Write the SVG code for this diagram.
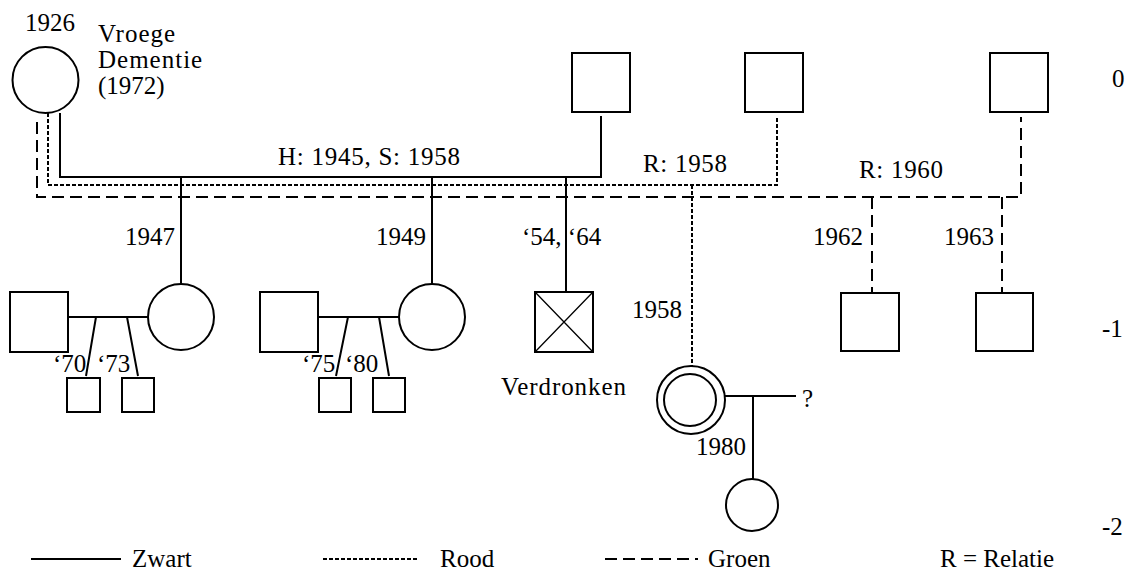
<svg xmlns="http://www.w3.org/2000/svg" width="1130" height="573" viewBox="0 0 1130 573" font-family="'Liberation Serif', 'Times New Roman', Times, serif">
<style>
text{font-family:'Liberation Serif','Times New Roman',Times,serif;font-size:25px;fill:#000}
.n{fill:#fff;stroke:#000;stroke-width:2}
.thin{fill:none;stroke:#000;stroke-width:1.3}
.blk{fill:none;stroke:#000;stroke-width:2}
.red{fill:none;stroke:#000;stroke-width:2;stroke-dasharray:4 2}
.grn{fill:none;stroke:#000;stroke-width:2;stroke-dasharray:12 6}
.e{text-anchor:end}
</style>
<rect width="1130" height="573" fill="#fff"/>
<g id="connectors">
  <path class="grn" d="M37,122 V197 H1021 V117"/>
  <path class="grn" d="M872,197 V293"/>
  <path class="grn" d="M1002,197 V293"/>
  <path class="red" d="M48,113 V185 H777 V117"/>
  <path class="red" d="M692,185 V367"/>
  <path class="blk" d="M60,113 V177 H601 V116"/>
  <path class="blk" d="M181,177 V284"/>
  <path class="blk" d="M432,177 V284"/>
  <path class="blk" d="M566,177 V292"/>
  <path class="blk" d="M68,317 H148"/>
  <path class="blk" d="M96,317 L86,376 M127,317 L138,376"/>
  <path class="blk" d="M318,317 H400"/>
  <path class="blk" d="M348,317 L336,376 M379,317 L389,376"/>
  <path class="blk" d="M725,396 H796"/>
  <path class="blk" d="M753,396 V479"/>
</g>
<g id="labels">
  <text x="25" y="31">1926</text>
  <text x="98" y="42" letter-spacing="1">Vroege</text>
  <text x="98" y="68" letter-spacing="1">Dementie</text>
  <text x="98" y="94">(1972)</text>
  <text x="278" y="165" textLength="182">H: 1945, S: 1958</text>
  <text x="643" y="172" textLength="84">R: 1958</text>
  <text x="859" y="178" textLength="84">R: 1960</text>
  <text class="e" x="175" y="245">1947</text>
  <text class="e" x="426" y="245">1949</text>
  <text x="522" y="245">‘54, ‘64</text>
  <text class="e" x="863" y="245">1962</text>
  <text class="e" x="994" y="245">1963</text>
  <text x="53" y="372">‘70</text>
  <text x="97" y="372">‘73</text>
  <text x="302" y="372">‘75</text>
  <text x="345" y="372">‘80</text>
  <text x="632" y="318">1958</text>
  <text x="501" y="395" textLength="125">Verdronken</text>
  <text x="802" y="407">?</text>
  <text x="696" y="455">1980</text>
  <text x="1112" y="87">0</text>
  <text x="1102" y="337">-1</text>
  <text x="1102" y="535">-2</text>
</g>
<g id="gen0-mother"><circle class="n" cx="45.5" cy="80" r="33"/></g>
<g id="gen0-father1"><rect class="n" x="572" y="53" width="58" height="59"/></g>
<g id="gen0-father2"><rect class="n" x="745" y="53" width="58" height="59"/></g>
<g id="gen0-father3"><rect class="n" x="990" y="53" width="58" height="59"/></g>
<g id="gen1-partner1"><rect class="n" x="10" y="292" width="58" height="60"/></g>
<g id="gen1-daughter1"><circle class="n" cx="181" cy="317" r="33"/></g>
<g id="gen2-child1"><rect class="n" x="67" y="378" width="33" height="34"/></g>
<g id="gen2-child2"><rect class="n" x="122" y="378" width="32" height="34"/></g>
<g id="gen1-partner2"><rect class="n" x="260" y="292" width="58" height="60"/></g>
<g id="gen1-daughter2"><circle class="n" cx="432" cy="317" r="33"/></g>
<g id="gen2-child3"><rect class="n" x="319" y="378" width="32" height="34"/></g>
<g id="gen2-child4"><rect class="n" x="373" y="378" width="32" height="34"/></g>
<g id="gen1-son-drowned"><rect class="n" x="535" y="292" width="58" height="60"/><path class="thin" d="M535,292 L593,352 M593,292 L535,352"/></g>
<g id="gen1-index"><circle class="n" cx="691" cy="400" r="34"/><circle class="n" cx="690" cy="400" r="26"/></g>
<g id="gen1-son1962"><rect class="n" x="841" y="293" width="58" height="58"/></g>
<g id="gen1-son1963"><rect class="n" x="976" y="293" width="57" height="58"/></g>
<g id="gen2-daughter1980"><circle class="n" cx="752" cy="505" r="26"/></g>
<g id="legend">
  <path class="blk" d="M31,559 H121"/>
  <text x="132" y="567">Zwart</text>
  <path class="red" d="M323,559 H418"/>
  <text x="440" y="567">Rood</text>
  <path class="grn" d="M605,559 H698"/>
  <text x="708" y="567">Groen</text>
  <text x="940" y="567">R = Relatie</text>
</g>
</svg>
